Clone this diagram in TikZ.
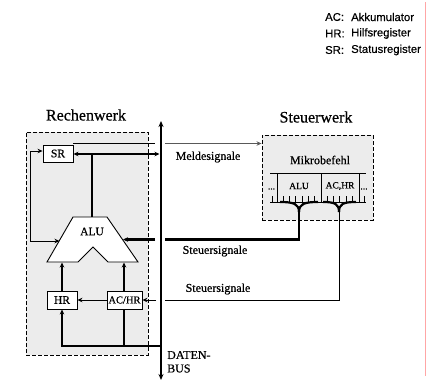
\documentclass[tikz,border=0pt]{standalone}
\usepackage{fontspec}
\setmainfont{Liberation Serif}
\newfontfamily\semib{Liberation Serif}[FakeBold=0.6]
\newfontfamily\legendfont{Liberation Sans}[FakeBold=0.4]
\usetikzlibrary{arrows.meta}
\begin{document}
\begin{tikzpicture}[x=1pt,y=-1pt,
  thickln/.style={line width=2.2pt},
  thinln/.style={line width=0.8pt},
  tip/.style={-{Stealth[length=5pt,width=4.5pt]}},
  reg/.style={draw, line width=0.9pt, fill=white, inner sep=0pt, font=\semib\fontsize{11.5}{13}\selectfont},
  werk/.style={draw, line width=0.9pt, fill=gray!15, dash pattern=on 4pt off 2pt, inner sep=0pt},
  big/.style={font=\semib\fontsize{16}{18}\selectfont, inner sep=0pt},
  lbl/.style={font=\semib\fontsize{12}{14}\selectfont, inner sep=0pt},
  fld/.style={font=\semib\fontsize{9.5}{10}\selectfont, inner sep=0pt},
  leg/.style={font=\legendfont\fontsize{11.3}{13}\selectfont, inner sep=0pt, anchor=west}
]
\useasboundingbox (0,0) rectangle (438,381);

% legend
\node[leg] (l1a) at (325,17) {AC:};
\node[leg] (l1b) at (351,17) {Akkumulator};
\node[leg] (l2a) at (325,33.5) {HR:};
\node[leg] (l2b) at (351,33.5) {Hilfsregister};
\node[leg] (l3a) at (325,50) {SR:};
\node[leg] (l3b) at (351,50) {Statusregister};
\draw[red!35, line width=0.6pt] (425,2) coordinate (pk1) -- (425,376) coordinate (pk2);

% units
\node[werk, minimum width=122pt, minimum height=223pt] (rw) at (87,243.5) {};
\node[big] (rwl) at (86,115) {Rechenwerk};
\node[werk, minimum width=111pt, minimum height=85pt] (sw) at (317.5,177.5) {};
\node[big] (swl) at (316,117) {Steuerwerk};
\node[lbl] (mb) at (320,160) {Mikrobefehl};

% microinstruction register
\coordinate (ft1) at (270,173); \coordinate (ft2) at (366,173);
\draw[thinln] (ft1) -- (ft2);
\foreach \x in {277,321,359} \draw[thinln] (\x,173) -- (\x,202);
\draw[thinln] (270,202) -- (366,202);
\foreach \x in {272,283,289,295,302,308,314,327,333,339,346,352,364} \draw[line width=0.7pt] (\x,196) -- (\x,202);
\node[fld] (fa) at (299,186) {ALU};
\node[fld] (fb) at (340,186) {AC,HR};
\node[fld] (fl) at (271.5,189) {...};
\node[fld] (fr) at (364,189) {...};
\coordinate (ba) at (299,212);
\coordinate (bb) at (339,212);
\draw[thickln] (280,202) .. controls (294,202) and (299,204) .. (ba);
\draw[thickln] (318,202) .. controls (304,202) and (299,204) .. (ba);
\draw[thickln] (323,202) .. controls (335,202) and (339,204) .. (bb);
\draw[thickln] (356,202) .. controls (343,202) and (339,204) .. (bb);

% registers
\node[reg, minimum width=30pt, minimum height=17pt] (SR) at (58,153.5) {SR};
\node[reg, minimum width=30pt, minimum height=18pt] (HR) at (62,300) {HR};
\node[reg, minimum width=35pt, minimum height=18pt, font=\semib\fontsize{10.5}{12}\selectfont] (ACHR) at (124.5,300) {AC/HR};

% ALU
\coordinate (a1) at (73,217); \coordinate (a2) at (107,217);
\coordinate (a3) at (138,262); \coordinate (a4) at (108,262);
\coordinate (a5) at (93,247); \coordinate (a6) at (78,262);
\coordinate (a7) at (47,262);
\draw[line width=0.9pt, fill=white] (a1) -- (a2) -- (a3) -- (a4) -- (a5) -- (a6) -- (a7) -- cycle;
\node[font=\semib\fontsize{11.5}{13}\selectfont, inner sep=0pt] (alu) at (92,231.5) {ALU};

% bus
\coordinate (bustop) at (161,121);
\coordinate (busbot) at (161,380);
\draw[line width=2.6pt, {Stealth[length=6pt,width=5pt]}-{Stealth[length=6pt,width=5pt]}] (bustop) -- (busbot);
\node[lbl, anchor=west] (db1) at (167,355) {DATEN-};
\node[lbl, anchor=west] (db2) at (167,368.5) {BUS};

% Meldesignale
\coordinate (m1) at (73,143.5); \coordinate (m2) at (155,143.5); \coordinate (m3) at (165,143.5);
\draw[thinln] (m1) -- (m2);
\draw[thinln, gray!70!black, tip] (m3) -- (sw.west |- m3);
\node[lbl] (ml) at (208,157) {Meldesignale};

% SR <-> bus, ALU output
\coordinate (sb) at (159.5,154);
\draw[thickln, {Stealth[length=5pt,width=4.5pt]}-{Stealth[length=5pt,width=4.5pt]}] (SR.east |- sb) -- (sb);
\coordinate (ao) at (92,154);
\draw[thickln] (ao) -- (92,217);

% feedback on the left
\coordinate (fb1) at (30,151); \coordinate (fb2) at (30,241); \coordinate (al) at (59.5,241);
\draw[thinln, tip] (fb1) -- (SR.west |- fb1);
\draw[thinln, tip] (fb1) -- (fb2) -- (al);

% upper Steuersignale
\coordinate (s1) at (299,239.5); \coordinate (s2) at (165,239.5);
\coordinate (s3) at (155,239.5); \coordinate (ar) at (123,239.5);
\draw[thickln] (ba) -- (s1) -- (s2);
\draw[thickln, tip] (s3) -- (ar);
\node[lbl] (st1) at (215,251) {Steuersignale};

% lower Steuersignale
\coordinate (t1) at (339,300); \coordinate (t2) at (165,300); \coordinate (t3) at (156,300);
\draw[thinln] (bb) -- (t1) -- (t2);
\draw[thinln, tip] (t3) -- (ACHR.east);
\node[lbl] (st2) at (218,289) {Steuersignale};

% register paths
\draw[thinln, tip] (ACHR.west) -- (HR.east);
\draw[thickln, tip] (HR.north) -- (62,262.5);
\draw[thickln, tip] (ACHR.north -| 124,0) -- (124,262.5);
\coordinate (d1) at (160,346); \coordinate (d2) at (62,346); \coordinate (d3) at (124,346);
\draw[thickln, tip] (d1) -- (d2) -- (HR.south);
\draw[thickln] (d3) -- (ACHR.south -| d3);
\end{tikzpicture}
\end{document}
